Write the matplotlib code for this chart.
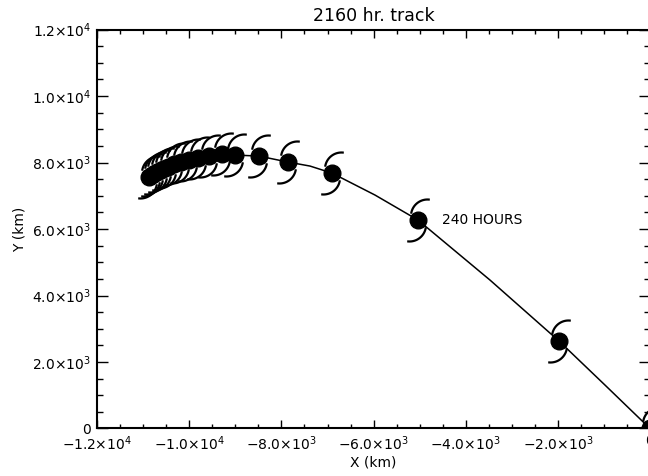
import numpy as np
import matplotlib
matplotlib.use("Agg")
import matplotlib.pyplot as plt
from matplotlib.path import Path
from matplotlib.ticker import MultipleLocator, FuncFormatter

# storm positions every 120 hr (km)
hours = [0, 120, 240, 360, 480, 600, 720, 840, 960, 1080, 1200, 1320,
         1440, 1560, 1680, 1800, 1920, 2040, 2160]
sym_x = [0, -1975, -5036, -6903, -7858, -8487, -9008, -9290, -9573, -9811,
         -10007, -10180, -10333, -10463, -10571, -10658, -10745, -10810, -10875]
sym_y = [0, 2632, 6271, 7684, 8015, 8195, 8226, 8256, 8196, 8135,
         8075, 8015, 7955, 7865, 7805, 7744, 7684, 7624, 7564]

# track line (km)
line_x = [0, -977, -1975, -3473, -5036, -5969, -6903, -7380, -7858, -8487,
          -9008, -9290, -9573, -9811, -10007, -10180, -10333, -10463,
          -10571, -10658, -10745, -10810, -10875]
line_y = [0, 1308, 2632, 4466, 6271, 7023, 7684, 7895, 8015, 8195,
          8226, 8256, 8196, 8135, 8075, 8015, 7955, 7865,
          7805, 7744, 7684, 7624, 7564]

label_hour = 240


def sci_fmt(v, pos):
    if v == 0:
        return "0"
    e = int(np.floor(np.log10(abs(v))))
    m = v / 10**e
    s = "\u2212" if m < 0 else ""
    return s + f"{abs(m):.1f}\u00d7" + r"$\mathregular{10^{%d}}$" % e


# hurricane arms marker: two arcs, 180 deg symmetric
t = np.radians(np.linspace(172, 82, 20))
up = np.column_stack([9 + 16.5 * np.cos(t), 4.5 + 16.5 * np.sin(t)])
arm_verts = np.vstack([up, -up])
arm_codes = ([Path.MOVETO] + [Path.LINETO] * 19) * 2
arm_path = Path(arm_verts, arm_codes)
arm_ms = 2 * np.abs(arm_verts).max() * 0.72

fig = plt.figure(figsize=(6.48, 4.76), dpi=100)
ax = fig.add_axes([0.150, 0.0998, 0.853, 0.838])

ax.plot(line_x, line_y, color="black", lw=1.1)
ax.plot(sym_x, sym_y, linestyle="none", marker=arm_path, ms=arm_ms,
        mfc="none", mec="black", mew=1.6)
ax.plot(sym_x, sym_y, linestyle="none", marker="o", ms=12,
        mfc="black", mec="black", mew=1)

i = hours.index(label_hour)
ax.text(sym_x[i] + 520, sym_y[i], f"{label_hour} HOURS", fontsize=10,
        va="center", ha="left")

ax.set_xlim(-12000, 0)
ax.set_ylim(0, 12000)
ax.xaxis.set_major_locator(MultipleLocator(2000))
ax.xaxis.set_minor_locator(MultipleLocator(500))
ax.yaxis.set_major_locator(MultipleLocator(2000))
ax.yaxis.set_minor_locator(MultipleLocator(500))
ax.xaxis.set_major_formatter(FuncFormatter(sci_fmt))
ax.yaxis.set_major_formatter(FuncFormatter(sci_fmt))

ax.tick_params(which="both", direction="in", top=True, right=True,
               width=1, labelsize=10)
ax.tick_params(axis="x", which="major", length=6, pad=4)
ax.tick_params(axis="x", which="minor", length=3)
ax.tick_params(axis="y", which="major", length=8, pad=4.5)
ax.tick_params(axis="y", which="minor", length=4)
for sp in ax.spines.values():
    sp.set_linewidth(1.5)

ax.set_xlabel("X (km)", fontsize=10, labelpad=2)
ax.set_ylabel("Y (km)", fontsize=10, labelpad=4)
ax.set_title("2160 hr. track", fontsize=12.5, pad=6)

fig.savefig("out.png", dpi=100)
